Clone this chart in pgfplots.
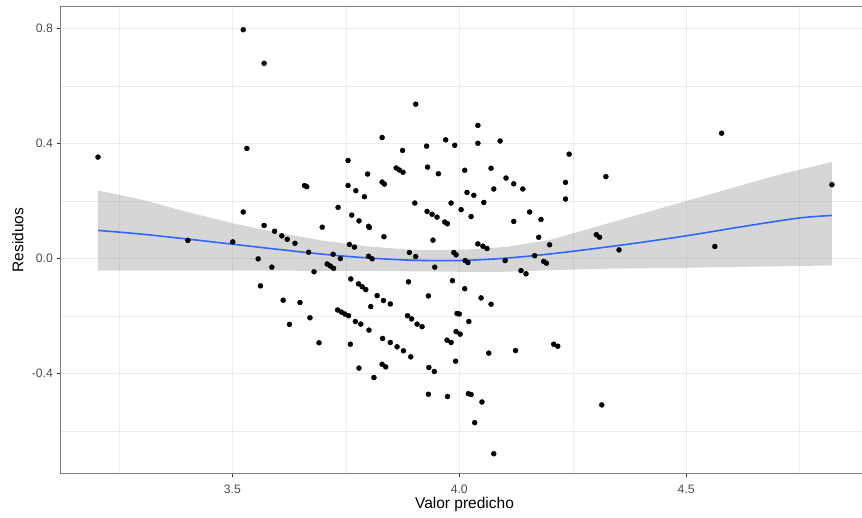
\documentclass[border=0pt]{standalone}
\usepackage{fontspec}
\setmainfont{Liberation Sans}
\usepackage{pgfplots}
\pgfplotsset{compat=1.18}

\definecolor{ggblue}{HTML}{3366FF}
\definecolor{gg92}{HTML}{EBEBEB}
\definecolor{gg30}{HTML}{4D4D4D}
\definecolor{gg20}{HTML}{333333}

% residuos vs valor predicho
\pgfplotstableread{
x y
3.204 0.353
3.402 0.063
3.501 0.058
3.524 0.796
3.570 0.679
3.532 0.383
3.524 0.162
3.659 0.254
3.664 0.250
3.733 0.178
3.570 0.115
3.698 0.109
3.593 0.095
3.609 0.079
3.621 0.067
3.638 0.053
3.830 0.421
3.755 0.341
3.798 0.294
3.861 0.315
3.868 0.308
3.876 0.300
3.755 0.254
3.772 0.236
3.791 0.215
3.830 0.266
3.835 0.259
3.763 0.151
3.779 0.131
3.800 0.112
3.802 0.108
3.834 0.076
3.668 0.022
3.758 0.049
3.769 0.040
3.722 0.015
3.738 0.000
3.800 0.008
3.808 -0.001
3.557 -0.001
3.709 -0.019
3.716 -0.026
3.723 -0.034
3.587 -0.030
3.680 -0.046
3.904 0.537
4.041 0.463
3.970 0.413
3.990 0.394
4.041 0.401
4.090 0.409
3.928 0.391
3.875 0.376
4.242 0.363
4.323 0.285
3.930 0.318
3.954 0.295
4.012 0.307
4.070 0.314
4.103 0.280
4.120 0.260
4.140 0.242
4.076 0.242
4.017 0.230
4.032 0.220
4.234 0.265
4.234 0.207
3.902 0.193
3.982 0.193
4.054 0.195
4.004 0.170
4.026 0.146
3.929 0.164
3.940 0.154
3.951 0.144
3.968 0.127
3.974 0.121
3.942 0.064
4.155 0.162
4.180 0.136
4.120 0.129
4.175 0.074
4.199 0.048
4.302 0.083
4.309 0.074
4.041 0.051
4.052 0.043
4.061 0.035
3.890 0.021
3.904 0.007
3.988 0.021
3.993 0.013
4.013 -0.007
4.019 -0.014
3.946 -0.030
4.101 -0.007
4.166 0.010
4.186 -0.010
4.192 -0.016
4.136 -0.042
4.147 -0.053
3.761 -0.071
3.778 -0.088
3.786 -0.098
3.794 -0.108
3.819 -0.129
3.833 -0.146
3.848 -0.158
3.805 -0.167
3.888 -0.081
3.932 -0.130
3.985 -0.077
4.012 -0.105
4.048 -0.137
4.070 -0.159
3.995 -0.191
4.000 -0.193
4.021 -0.219
3.732 -0.179
3.740 -0.186
3.748 -0.193
3.756 -0.199
3.771 -0.219
3.783 -0.228
3.801 -0.249
3.886 -0.199
3.895 -0.210
3.907 -0.228
3.918 -0.237
3.993 -0.254
4.002 -0.263
3.973 -0.284
3.982 -0.292
3.831 -0.278
3.848 -0.292
3.863 -0.307
3.877 -0.321
3.893 -0.342
3.760 -0.298
3.830 -0.368
3.838 -0.377
3.779 -0.381
3.812 -0.414
3.933 -0.379
3.945 -0.393
3.992 -0.357
4.065 -0.329
4.124 -0.320
4.208 -0.298
4.217 -0.305
3.932 -0.472
3.974 -0.480
4.020 -0.470
4.026 -0.473
4.050 -0.499
4.034 -0.571
4.076 -0.679
4.314 -0.509
3.562 -0.095
3.612 -0.145
3.649 -0.153
3.671 -0.206
3.626 -0.229
3.691 -0.293
4.578 0.436
4.821 0.257
4.352 0.030
4.563 0.042
}\residuos

\begin{document}
\begin{tikzpicture}
\begin{axis}[
    scale only axis,
    width=807pt, height=466pt,
    xmin=3.1225, xmax=4.9005,
    ymin=-0.746, ymax=0.875,
    axis line style={draw=black!50, line width=1pt},
    xtick={3.5,4,4.5}, xticklabels={3.5,4.0,4.5},
    ytick={-0.4,0,0.4,0.8}, yticklabels={-0.4,0.0,0.4,0.8},
    minor xtick={3.25,3.75,4.25,4.75},
    minor ytick={-0.6,-0.2,0.2,0.6},
    grid=both,
    major grid style={draw=gg92, line width=1pt},
    minor grid style={draw=gg92, line width=0.5pt},
    tick pos=left, tick align=outside,
    major tick length=4pt, minor tick length=0pt,
    tick style={draw=gg20, line width=1pt},
    ticklabel style={font=\fontsize{12.2}{14}\selectfont, text=gg30},
    xticklabel style={anchor=base, yshift=-16pt},
    yticklabel style={anchor=east, inner sep=0pt, xshift=-4pt},
    xlabel={Valor predicho},
    ylabel={Residuos},
    label style={font=\fontsize{15.5}{18}\selectfont},
    xlabel style={at={(axis description cs:0.5,-0.0751)}, anchor=base},
    ylabel style={at={(axis description cs:-0.0465,0.5)}, anchor=base, rotate=0},
]
\addplot[only marks, mark=*, mark size=2.5pt, black] table[x=x, y=y] {\residuos};
% banda de confianza
\addplot[draw=none, fill=black!40, fill opacity=0.4] coordinates {
    (3.204,0.237) (3.3,0.205) (3.4,0.162) (3.5,0.123) (3.6,0.090)
    (3.7,0.062) (3.8,0.042) (3.9,0.030) (4.0,0.030) (4.1,0.040)
    (4.2,0.065) (4.3,0.110) (4.4,0.155) (4.5,0.200) (4.6,0.245)
    (4.7,0.290) (4.821,0.336)
    (4.821,-0.024) (4.7,-0.027) (4.5,-0.032) (4.3,-0.036) (4.1,-0.046)
    (4.0,-0.046) (3.8,-0.043) (3.5,-0.042) (3.204,-0.042)
} -- cycle;
% loess
\addplot[ggblue, line width=1.6pt, smooth] coordinates {
    (3.204,0.098) (3.3,0.085) (3.4,0.068) (3.5,0.050) (3.6,0.032)
    (3.7,0.015) (3.8,0.002) (3.9,-0.006) (4.0,-0.007) (4.1,0.001)
    (4.2,0.016) (4.3,0.035) (4.4,0.056) (4.5,0.079) (4.6,0.105)
    (4.7,0.130) (4.76,0.143) (4.821,0.150)
};
\end{axis}
\pgfresetboundingbox
\useasboundingbox (-61pt,-44pt) rectangle (801pt,473pt);
\end{tikzpicture}
\end{document}
